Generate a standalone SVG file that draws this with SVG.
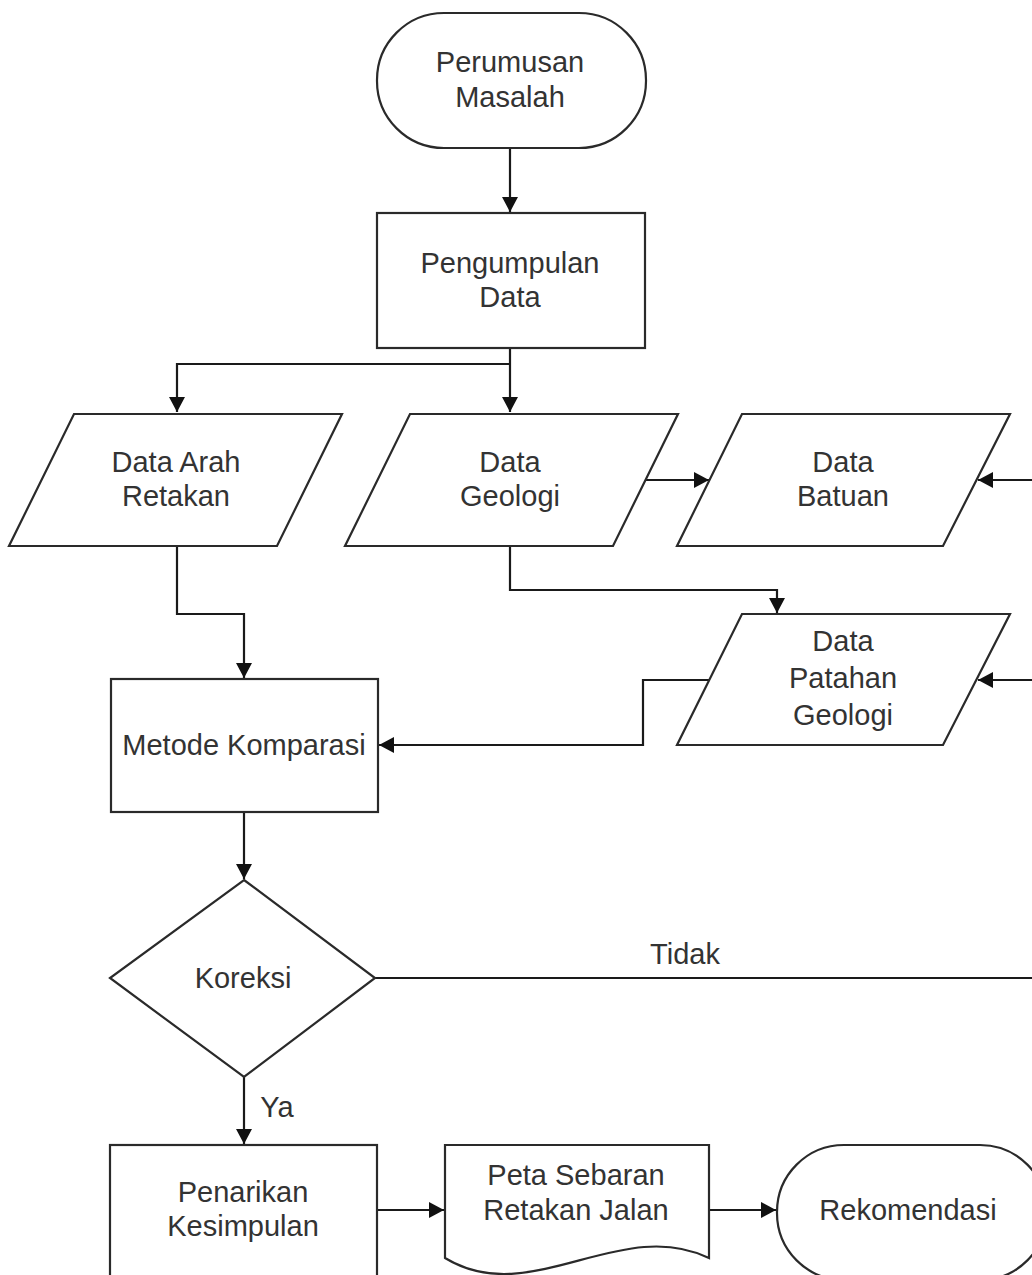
<svg xmlns="http://www.w3.org/2000/svg" width="1032" height="1275" viewBox="0 0 1032 1275">
<style>
.shape{fill:#fff;stroke:#2a2a2a;stroke-width:2.2}
.conn{fill:none;stroke:#1a1a1a;stroke-width:2.2}
text{font-family:"Liberation Sans",Arial,sans-serif;font-size:29px;fill:#333;text-anchor:middle}
</style>
<defs>
<marker id="arr" markerUnits="userSpaceOnUse" markerWidth="16" markerHeight="16" refX="15" refY="8" orient="auto">
<path d="M0,0 L15,8 L0,16 z" fill="#111"/>
</marker>
</defs>
<rect width="1032" height="1275" fill="#fff"/>
<g id="connectors">
<path class="conn" d="M510,148 V212" marker-end="url(#arr)"/>
<path class="conn" d="M510,348 V412" marker-end="url(#arr)"/>
<path class="conn" d="M510,364 H177 V412" marker-end="url(#arr)"/>
<path class="conn" d="M645,480 H709" marker-end="url(#arr)"/>
<path class="conn" d="M1032,480 H978" marker-end="url(#arr)"/>
<path class="conn" d="M510,546 V590 H777 V613" marker-end="url(#arr)"/>
<path class="conn" d="M1032,680 H978" marker-end="url(#arr)"/>
<path class="conn" d="M709,680 H643 V745 H379" marker-end="url(#arr)"/>
<path class="conn" d="M177,546 V614 H244 V678" marker-end="url(#arr)"/>
<path class="conn" d="M244,812 V879" marker-end="url(#arr)"/>
<path class="conn" d="M375,978 H1032"/>
<path class="conn" d="M244,1077 V1144" marker-end="url(#arr)"/>
<path class="conn" d="M377,1210 H444" marker-end="url(#arr)"/>
<path class="conn" d="M709,1210 H776" marker-end="url(#arr)"/>
<text x="685" y="964">Tidak</text>
<text x="277" y="1117">Ya</text>
</g>
<g id="perumusan">
<rect class="shape" x="377" y="13" width="269" height="135" rx="67" ry="67"/>
<text x="510" y="72">Perumusan</text>
<text x="510" y="107">Masalah</text>
</g>
<g id="pengumpulan">
<rect class="shape" x="377" y="213" width="268" height="135"/>
<text x="510" y="273">Pengumpulan</text>
<text x="510" y="307">Data</text>
</g>
<g id="data-arah">
<polygon class="shape" points="74,414 342,414 277,546 9,546"/>
<text x="176" y="472">Data Arah</text>
<text x="176" y="506">Retakan</text>
</g>
<g id="data-geologi">
<polygon class="shape" points="410,414 678,414 613,546 345,546"/>
<text x="510" y="472">Data</text>
<text x="510" y="506">Geologi</text>
</g>
<g id="data-batuan">
<polygon class="shape" points="742,414 1010,414 943,546 677,546"/>
<text x="843" y="472">Data</text>
<text x="843" y="506">Batuan</text>
</g>
<g id="data-patahan">
<polygon class="shape" points="742,614 1010,614 943,745 677,745"/>
<text x="843" y="651">Data</text>
<text x="843" y="688">Patahan</text>
<text x="843" y="725">Geologi</text>
</g>
<g id="metode">
<rect class="shape" x="111" y="679" width="267" height="133"/>
<text x="244" y="755">Metode Komparasi</text>
</g>
<g id="koreksi">
<polygon class="shape" points="244,880 375,978 244,1077 110,978"/>
<text x="243" y="988">Koreksi</text>
</g>
<g id="penarikan">
<rect class="shape" x="110" y="1145" width="267" height="150"/>
<text x="243" y="1202">Penarikan</text>
<text x="243" y="1236">Kesimpulan</text>
</g>
<g id="peta">
<path class="shape" d="M445,1145 H709 V1258 C620,1215 530,1310 445,1258 Z"/>
<text x="576" y="1185">Peta Sebaran</text>
<text x="576" y="1220">Retakan Jalan</text>
</g>
<g id="rekomendasi">
<rect class="shape" x="777" y="1145" width="270" height="135" rx="67" ry="67"/>
<text x="908" y="1220">Rekomendasi</text>
</g>
</svg>
